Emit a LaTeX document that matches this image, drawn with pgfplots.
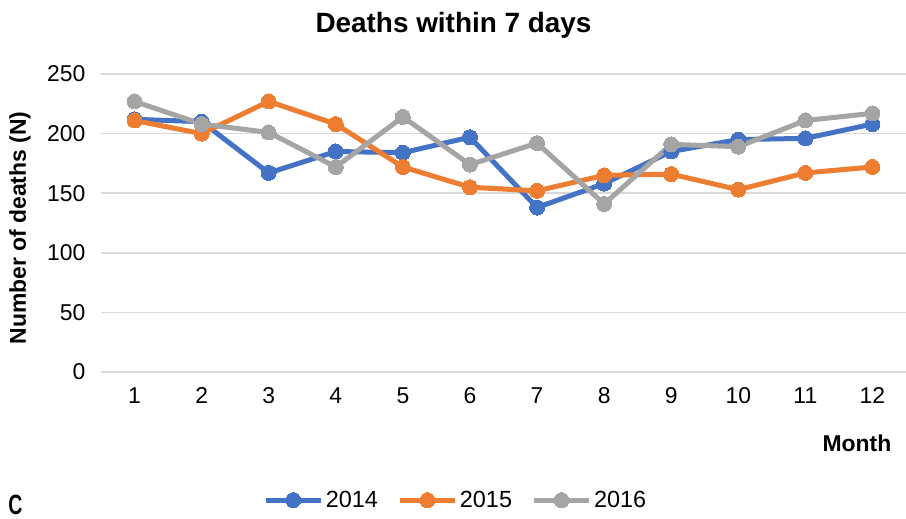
\documentclass[border=0pt]{standalone}
\usepackage{pgfplots}
\pgfplotsset{compat=1.18}
\usepackage{fontspec}
\setmainfont{Liberation Sans}
\definecolor{cblue}{HTML}{4472C4}
\definecolor{corange}{HTML}{ED7D31}
\definecolor{cgray}{HTML}{A5A5A5}
\definecolor{cgrid}{HTML}{D9D9D9}
\begin{document}
\begin{tikzpicture}
\useasboundingbox (0,0) rectangle (906bp,-519bp);
\begin{axis}[
  at={(101bp,-372bp)}, anchor=south west,
  scale only axis, width=805bp, height=298bp,
  xmin=0.5, xmax=12.5, ymin=0, ymax=250,
  xtick={1,...,12}, ytick={0,50,...,250},
  axis line style={draw=none},
  major tick length=0pt,
  ymajorgrids, grid style={cgrid, line width=1.5bp},
  /pgf/number format/assume math mode=true,
  tick label style={font=\fontsize{23}{27}\selectfont},
  xticklabel style={yshift=-12bp},
  yticklabel style={xshift=-12bp},
  clip=false,
  legend columns=3,
  legend style={at={(0.441,-0.43)}, anchor=center, draw=none, fill=none,
    font=\fontsize{23.5}{27}\selectfont, column sep=0bp, inner sep=0pt,
    nodes={inner sep=2.5bp},
    /tikz/every even column/.append style={column sep=17bp}},
  legend image code/.code={%
    \draw[#1, mark repeat=2, mark phase=2] plot coordinates {(0bp,0bp) (27.5bp,0bp) (55bp,0bp)};},
  every axis plot/.append style={line width=5bp, mark=*, mark size=7.5bp},
]
\addplot[cblue, mark options={fill=cblue, draw=cblue, line width=0pt}] coordinates {
(1,212) (2,210) (3,167) (4,185) (5,184) (6,197) (7,138) (8,158) (9,185) (10,195) (11,196) (12,208)};
\addlegendentry{2014}
\addplot[corange, mark options={fill=corange, draw=corange, line width=0pt}] coordinates {
(1,211) (2,200) (3,227) (4,208) (5,172) (6,155) (7,152) (8,165) (9,166) (10,153) (11,167) (12,172)};
\addlegendentry{2015}
\addplot[cgray, mark options={fill=cgray, draw=cgray, line width=0pt}] coordinates {
(1,227) (2,208) (3,201) (4,172) (5,214) (6,174) (7,192) (8,141) (9,191) (10,189) (11,211) (12,217)};
\addlegendentry{2016}
\end{axis}
\node[font=\fontsize{28}{32}\selectfont\bfseries] at (453.5bp,-25bp) {Deaths within 7 days};
\node[font=\fontsize{23}{27}\selectfont\bfseries, rotate=90] at (20bp,-228bp) {Number of deaths (N)};
\node[font=\fontsize{23}{27}\selectfont\bfseries] at (857bp,-443bp) {Month};
\node[font=\fontsize{28}{32}\selectfont\bfseries, inner sep=0pt] at (15.5bp,-504.5bp) {\scalebox{0.7}[1]{C}};
\end{tikzpicture}
\end{document}
